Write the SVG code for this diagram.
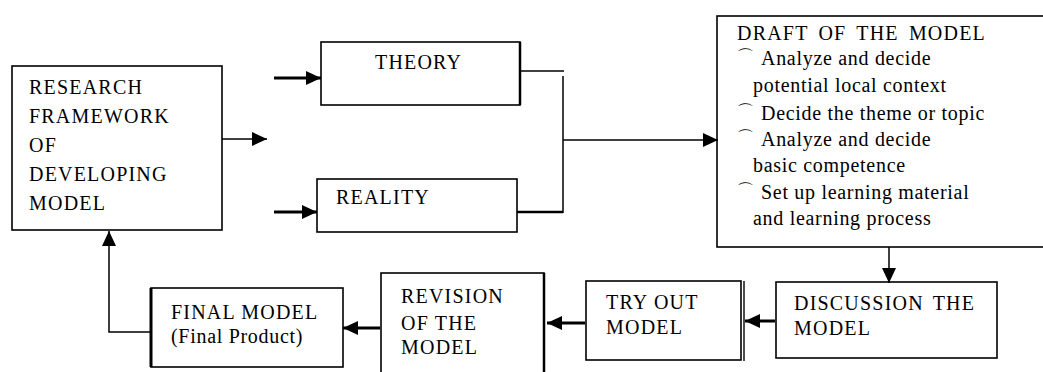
<svg xmlns="http://www.w3.org/2000/svg" width="1043" height="372" viewBox="0 0 1043 372">
<style>
  .box { fill: #fff; stroke: #000; stroke-width: 1.6; }
  .t { font-size: 20px; fill: #000; letter-spacing: 1.2px; }
  .l { letter-spacing: 0.7px; }
  .b { font-size: 17px; }
  .thin { fill: none; stroke: #000; stroke-width: 1.5; }
  .thick { fill: none; stroke: #000; stroke-width: 3; }
</style>
<defs>
  <marker id="ah" markerUnits="userSpaceOnUse" markerWidth="16" markerHeight="14" refX="15" refY="7" orient="auto">
    <path d="M0,0 L15,7 L0,14 Z" fill="#000"/>
  </marker>
</defs>
<rect width="1043" height="372" fill="#fff"/>

<g font-family="'Liberation Serif', 'DejaVu Serif', serif">
<g id="research">
  <rect class="box" x="12" y="66" width="210" height="164"/>
  <text class="t" x="29" y="94">RESEARCH</text>
  <text class="t" x="29" y="123">FRAMEWORK</text>
  <text class="t" x="29" y="152">OF</text>
  <text class="t" x="29" y="181">DEVELOPING</text>
  <text class="t" x="29" y="210">MODEL</text>
</g>

<g id="theory">
  <rect class="box" x="321" y="42" width="199" height="63"/>
  <line x1="520" y1="42" x2="520" y2="105" stroke="#000" stroke-width="2.5"/>
  <text class="t" x="375" y="69">THEORY</text>
</g>

<g id="reality">
  <rect class="box" x="317" y="179" width="200" height="53"/>
  <text class="t" x="336" y="204">REALITY</text>
</g>

<g id="draft">
  <rect class="box" x="717" y="16" width="340" height="231"/>
  <text class="t" x="737" y="40" word-spacing="4">DRAFT OF THE MODEL</text>
  <text class="t l" x="737" y="65"><tspan class="b" font-family="'DejaVu Sans', sans-serif" dy="-3">⌒</tspan><tspan x="761" dy="3">Analyze and decide</tspan></text>
  <text class="t l" x="753" y="92">potential local context</text>
  <text class="t l" x="737" y="120"><tspan class="b" font-family="'DejaVu Sans', sans-serif" dy="-3">⌒</tspan><tspan x="761" dy="3">Decide the theme or topic</tspan></text>
  <text class="t l" x="737" y="146"><tspan class="b" font-family="'DejaVu Sans', sans-serif" dy="-3">⌒</tspan><tspan x="761" dy="3">Analyze and decide</tspan></text>
  <text class="t l" x="753" y="172">basic competence</text>
  <text class="t l" x="737" y="199"><tspan class="b" font-family="'DejaVu Sans', sans-serif" dy="-3">⌒</tspan><tspan x="761" dy="3">Set up learning material</tspan></text>
  <text class="t l" x="753" y="225">and learning process</text>
</g>

<g id="discussion">
  <rect class="box" x="776" y="282" width="221" height="76"/>
  <text class="t" x="794" y="310" word-spacing="3">DISCUSSION THE</text>
  <text class="t" x="794" y="335">MODEL</text>
</g>

<g id="tryout">
  <rect class="box" x="586" y="281" width="155" height="79"/>
  <line x1="744" y1="281" x2="744" y2="361" stroke="#000" stroke-width="1.4"/>
  <text class="t" x="606" y="309">TRY OUT</text>
  <text class="t" x="606" y="334">MODEL</text>
</g>

<g id="revision">
  <rect class="box" x="381" y="273" width="163" height="110"/>
  <line x1="544" y1="273" x2="544" y2="372" stroke="#000" stroke-width="2.5"/>
  <text class="t" x="401" y="303">REVISION</text>
  <text class="t" x="401" y="330">OF THE</text>
  <text class="t" x="401" y="354">MODEL</text>
</g>

<g id="final">
  <rect class="box" x="151" y="288" width="192" height="79"/>
  <line x1="151" y1="288" x2="151" y2="367" stroke="#000" stroke-width="3"/>
  <text class="t" x="171" y="319">FINAL MODEL</text>
  <text class="t l" x="171" y="343">(Final Product)</text>
</g>
</g>

<g id="connectors">
  <line class="thin" x1="222" y1="139" x2="267" y2="139" marker-end="url(#ah)"/>
  <line class="thick" x1="274" y1="78" x2="321" y2="78" marker-end="url(#ah)"/>
  <line class="thick" x1="274" y1="212" x2="317" y2="212" marker-end="url(#ah)"/>
  <line class="thin" x1="520" y1="71" x2="564" y2="71"/>
  <line class="thin" x1="563" y1="76" x2="563" y2="213"/>
  <line x1="517" y1="212" x2="563" y2="212" stroke="#000" stroke-width="2.5"/>
  <line class="thin" x1="563" y1="140" x2="718" y2="140" marker-end="url(#ah)"/>
  <line class="thin" x1="889" y1="247" x2="889" y2="283" marker-end="url(#ah)"/>
  <line class="thick" x1="775" y1="321" x2="745" y2="321" marker-end="url(#ah)"/>
  <line class="thick" x1="585" y1="323" x2="547" y2="323" marker-end="url(#ah)"/>
  <line class="thick" x1="380" y1="328" x2="343" y2="328" marker-end="url(#ah)"/>
  <polyline class="thin" points="150,332 109,332 109,231" marker-end="url(#ah)"/>
</g>
</svg>
